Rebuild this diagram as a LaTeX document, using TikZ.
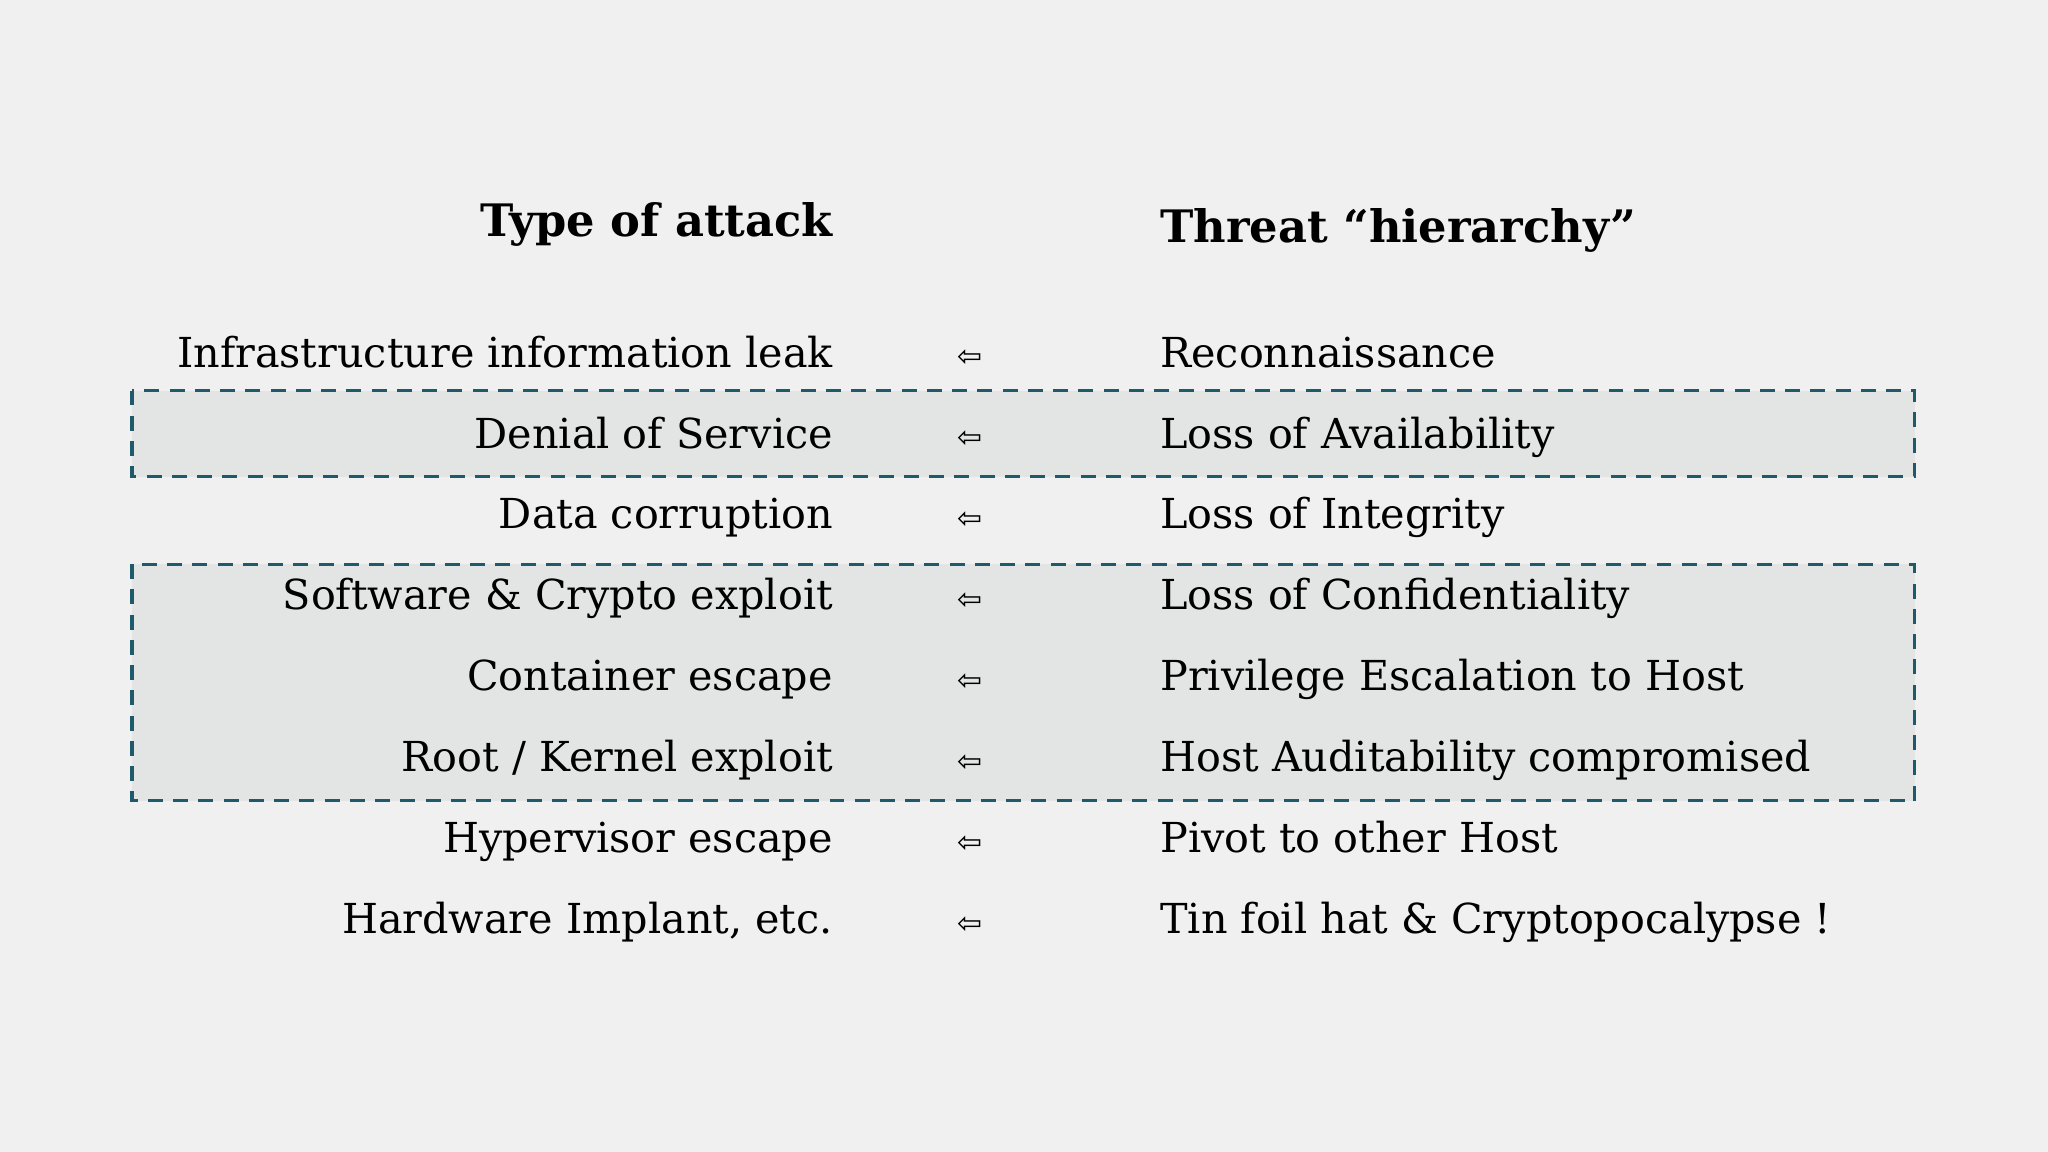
\documentclass[tikz,border=0pt]{standalone}
\usepackage{fontspec}
\setmainfont{DejaVu Serif}
\newfontfamily\symfont{DejaVu Sans}
\definecolor{bg}{HTML}{F0F0F0}
\definecolor{boxfill}{HTML}{E3E5E5}
\definecolor{boxline}{HTML}{1F5A6A}
\begin{document}
\begin{tikzpicture}[x=0.02cm,y=-0.02cm,
  lefttxt/.style={anchor=base east,font=\fontsize{18}{22}\selectfont,inner sep=0pt},
  righttxt/.style={anchor=base west,font=\fontsize{18}{22}\selectfont,inner sep=0pt},
  arr/.style={font=\symfont\fontsize{13}{14}\selectfont,inner sep=0pt},
  grp/.style={draw=boxline,fill=boxfill,line width=1.4pt,dash pattern=on 6.5pt off 4.5pt}]
\fill[bg] (0,0) rectangle (1568,882);
\useasboundingbox (0,0) rectangle (1568,882);
\draw[grp] (101,299) rectangle (1466,365);
\draw[grp] (101,432) rectangle (1466,613);
\node[lefttxt,font=\bfseries\fontsize{19.5}{24}\selectfont] (t1) at (638,181) {Type of attack};
\node[righttxt,font=\bfseries\fontsize{19.5}{24}\selectfont] (t2) at (888,186) {Threat “hierarchy”};
\foreach \i/\l/\r in {0/Infrastructure information leak/Reconnaissance,
  1/Denial of Service/Loss of Availability,
  2/Data corruption/Loss of Integrity,
  3/Software \& Crypto exploit/Loss of Confidentiality,
  4/Container escape/Privilege Escalation to Host,
  5/{Root / Kernel exploit}/Host Auditability compromised,
  6/Hypervisor escape/Pivot to other Host,
  7/{Hardware Implant, etc.}/Tin foil hat \& Cryptopocalypse !}{
  \node[lefttxt] (l\i) at (638,{281+62*\i}) {\l};
  \node[arr] (a\i) at (743,{274+62*\i}) {⇦};
  \node[righttxt] (r\i) at (888,{281+62*\i}) {\r};
}
\end{tikzpicture}
\end{document}
